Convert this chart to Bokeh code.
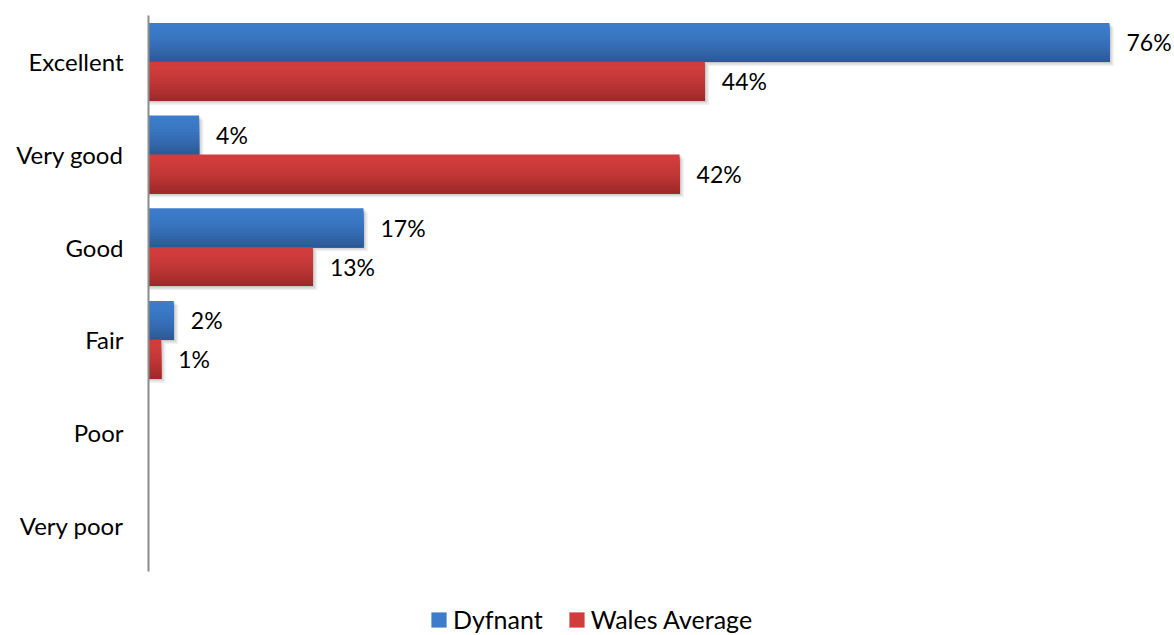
from bokeh.plotting import figure
from bokeh.layouts import column
from bokeh.models import FactorRange, Range1d, Legend, LegendItem, ColumnDataSource
from bokeh.transform import dodge
from bokeh.core.properties import value
from bokeh.embed import file_html
from bokeh.resources import INLINE

# ---- data ----
categories = ["Excellent", "Very good", "Good", "Fair", "Poor", "Very poor"]
dyfnant = [76, 4, 17, 2, 0, 0]
wales = [44, 42, 13, 1, 0, 0]
series_names = ["Dyfnant", "Wales Average"]

FONT = "Lato"
W = 1174
H1 = 580
H2 = 55
y_range = FactorRange(factors=categories[::-1], range_padding=0, factor_padding=0)

p = figure(width=W, height=H1, y_range=y_range, x_range=Range1d(0, 81.14),
           output_backend="svg", toolbar_location=None,
           min_border_left=148, min_border_right=0, min_border_top=15, min_border_bottom=H1 - 571)

BAR_H = 0.42
N = 14

BLUE = ("#3c7ccb", "#2c5a97")
RED = ("#d13d3c", "#9f292a")


def lerp(c1, c2, t):
    a = [int(c1[i:i + 2], 16) for i in (1, 3, 5)]
    b = [int(c2[i:i + 2], 16) for i in (1, 3, 5)]
    return "#%02x%02x%02x" % tuple(round(a[k] + (b[k] - a[k]) * t) for k in range(3))


def draw_shadow(vals, center_off):
    src = ColumnDataSource(dict(cat=[c for c, v in zip(categories, vals) if v > 0],
                                v=[v for v in vals if v > 0]))
    for dx, dy, a in ((0.35, 0.045, 0.06), (0.22, 0.028, 0.08), (0.1, 0.012, 0.1)):
        p.hbar(y=dodge("cat", center_off - dy, range=y_range), right=dodge("v", dx), left=0,
               height=BAR_H, fill_color="#000000", fill_alpha=a, line_color=None, source=src)


def draw_series(vals, center_off, cols):
    src = ColumnDataSource(dict(cat=categories, v=vals))
    sh = BAR_H / N
    bottom = center_off - BAR_H / 2
    for i in range(N):
        hgt = BAR_H - i * sh
        off = bottom + hgt / 2
        col = lerp(cols[0], cols[1], (i / (N - 1)) ** 1.6)
        p.hbar(y=dodge("cat", off, range=y_range), right="v", left=0, height=hgt,
               fill_color=col, line_color=None, source=src)
    lab = ColumnDataSource(dict(cat=[c for c, v in zip(categories, vals) if v > 0],
                                v=[v for v in vals if v > 0],
                                t=["%d%%" % v for v in vals if v > 0]))
    p.text(x="v", y=dodge("cat", center_off, range=y_range), text="t", source=lab,
           x_offset=17, text_baseline="middle", text_align="left",
           text_font=value(FONT), text_font_size="23px", text_color="#000000")


draw_shadow(wales, -BAR_H / 2)
draw_shadow(dyfnant, BAR_H / 2)
draw_series(dyfnant, BAR_H / 2, BLUE)
draw_series(wales, -BAR_H / 2, RED)

# axes
p.xaxis.visible = False
p.xgrid.visible = False
p.ygrid.visible = False
p.outline_line_color = None
ax = p.yaxis[0]
ax.axis_line_color = "#8c8c8c"
ax.axis_line_width = 2
ax.major_tick_line_color = None
ax.minor_tick_line_color = None
ax.major_label_text_font = FONT
ax.major_label_text_font_size = "24px"
ax.major_label_text_color = "#000000"
ax.major_label_standoff = 19

# ---- legend strip (frame is aligned with the chart frame, left edge at x=148) ----
leg = figure(width=W, height=H2, x_range=Range1d(0, 1), y_range=Range1d(0, 1),
             output_backend="svg", toolbar_location=None,
             min_border_left=148, min_border_right=0, min_border_top=0, min_border_bottom=0)
leg.axis.visible = False
leg.grid.visible = False
leg.outline_line_color = None
nan = float("nan")
sw = ColumnDataSource(dict(y=[nan], r=[nan]))
lb = leg.hbar(y="y", right="r", height=1, fill_color=BLUE[0], line_color=None, source=sw)
lr = leg.hbar(y="y", right="r", height=1, fill_color=RED[0], line_color=None, source=sw)
legend = Legend(items=[LegendItem(label=series_names[0], renderers=[lb]),
                       LegendItem(label=series_names[1], renderers=[lr])],
                location=(281, 1), orientation="horizontal",
                glyph_width=19, glyph_height=19, label_standoff=5, spacing=24,
                padding=0, margin=0, border_line_color=None, background_fill_alpha=0,
                label_text_font=FONT, label_text_font_size="25px", label_text_color="#000000")
leg.add_layout(legend, "center")

layout = column(p, leg, spacing=0)
open("out.html", "w").write(file_html(layout, INLINE))
